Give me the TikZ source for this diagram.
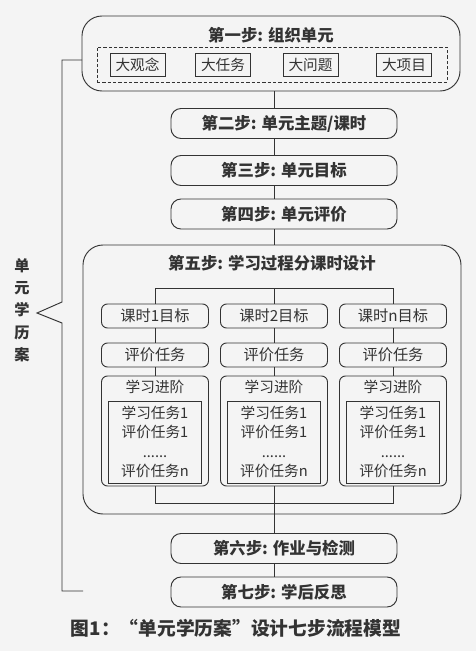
\documentclass[tikz,border=0pt]{standalone}
\usepackage{fontspec}
\setmainfont{Noto Sans CJK SC}
\usetikzlibrary{positioning}
\definecolor{bg}{HTML}{F4F4F4}
\definecolor{ink}{HTML}{333333}

\begin{document}
\begin{tikzpicture}[x=0.3mm,y=-0.3mm,line width=0.8pt,color=ink,
  stepbox/.style={draw=ink,rounded corners=3mm,minimum width=67.8mm,minimum height=9mm,font=\bfseries\fontsize{14}{16}\selectfont},
  bigbox/.style={draw=ink,rounded corners=6mm,minimum width=113.4mm},
  dabox/.style={draw=ink,minimum width=16.5mm,minimum height=6.9mm,font=\fontsize{12.5}{14}\selectfont},
  colbox/.style={draw=ink,rounded corners=1.8mm,minimum width=32.1mm,minimum height=7.2mm,font=\fontsize{13}{15}\selectfont},
  title/.style={font=\bfseries\fontsize{14}{16}\selectfont}]
\useasboundingbox[fill=bg] (0,0) rectangle (476,651);
\coordinate (c) at (274,0);
% step 1
\node[bigbox,minimum height=22.5mm] (s1) at (271,53.5) {};
\node[title] (t1) at (271,35) {第一步: 组织单元};
\node[draw=ink,dash pattern=on 1mm off 0.6mm,line width=0.6pt,minimum width=105mm,minimum height=10.5mm] (dz) at (272,64.5) {};
\node[dabox] (d1) at (137.5,64.5) {大观念};
\node[dabox] (d2) at (223,64.5) {大任务};
\node[dabox] (d3) at (310.5,64.5) {大问题};
\node[dabox] (d4) at (404,64.5) {大项目};
% steps 2-4
\node[stepbox] (s2) at (284,123.5) {第二步: 单元主题/课时};
\node[stepbox] (s3) at (284,170.5) {第三步: 单元目标};
\node[stepbox] (s4) at (284,214) {第四步: 单元评价};
% step 5
\node[bigbox,minimum height=80.7mm] (s5) at (272,379.5) {};
\node[title] (t5) at (272,263) {第五步: 学习过程分课时设计};
\foreach \x/\s in {155/1,274/2,393/n}{
  \node[colbox] (k\s) at (\x,316) {课时\s{}目标};
  \node[colbox] (p\s) at (\x,355) {评价任务};
  \node[colbox,minimum height=33mm] (j\s) at (\x,431) {};
  \node[font=\fontsize{12.5}{14}\selectfont] (h\s) at (\x,387) {学习进阶};
  \node[draw=ink,minimum width=27.9mm,minimum height=24.6mm,align=center,
    font=\fontsize{12.5}{16.4}\selectfont] (r\s) at (\x,442) {学习任务1\\评价任务1\\......\\评价任务n};
  \draw (k\s.south) -- (p\s.north) (p\s.south) -- (j\s.north);
}
% steps 6-7
\node[stepbox] (s6) at (284,548.5) {第六步: 作业与检测};
\node[stepbox] (s7) at (284,592) {第七步: 学后反思};
% connectors
\draw (s1.south -| c) -- (s2.north -| c) (s2.south -| c) -- (s3.north -| c)
  (s3.south -| c) -- (s4.north -| c) (s4.south -| c) -- (s5.north -| c);
\coordinate (bt) at (0,288);
\coordinate (bb) at (0,503);
\draw (k1.north) -- (k1.north |- bt) -- (kn.north |- bt) -- (kn.north) (k2.north) -- (k2.north |- bt);
\draw (j1.south) -- (j1.south |- bb) -- (jn.south |- bb) -- (jn.south) (j2.south) -- (s6.north -| c);
\draw (s6.south -| c) -- (s7.north -| c);
% left bracket
\coordinate (tip) at (37,313);
\draw (82,60) -- (62,60) -- (62,302) -- (tip) -- (62,323) -- (62,591) -- (83,591);
\node[font=\bfseries\fontsize{13}{19}\selectfont,align=center] (lab) at (22,310) {单\\元\\学\\历\\案};
% caption
\node[font=\bfseries\fontsize{16}{18}\selectfont] (cap) at (236,628) {图1：“单元学历案”设计七步流程模型};
\end{tikzpicture}
\end{document}
